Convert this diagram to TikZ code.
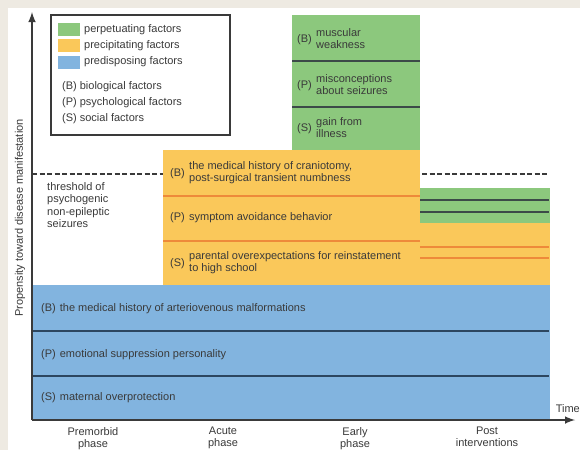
\documentclass[tikz,border=0pt]{standalone}
\usepackage{fontspec}
\setmainfont{Liberation Sans}
\usetikzlibrary{arrows}
\definecolor{bgbeige}{HTML}{EEEAE2}
\definecolor{perpgreen}{HTML}{8CC87D}
\definecolor{precyellow}{HTML}{FAC85A}
\definecolor{predblue}{HTML}{82B4DF}
\definecolor{lineorange}{HTML}{EE8A3A}
\definecolor{linedark}{HTML}{3C4A48}
\definecolor{linenavy}{HTML}{2C4660}
\definecolor{inkgrey}{HTML}{3A3A3A}
\tikzset{l/.style={font=\fontsize{11}{12}\selectfont, text=inkgrey, inner sep=0pt}}
\tikzset{tx/.style={l, align=left, anchor=west}}
\tikzset{ph/.style={l, align=center, anchor=north}}
\tikzset{axis/.style={line width=2.4pt, draw=inkgrey, -latex}}
\tikzset{thr/.style={line width=1.8pt, draw=inkgrey, dash pattern=on 5pt off 2.5pt}}
\tikzset{sep/.style={line width=1.3pt, draw=lineorange}}
\tikzset{dk/.style={line width=1.8pt, draw=linedark}}
\tikzset{nv/.style={line width=1.8pt, draw=linenavy}}

\begin{document}
\begin{tikzpicture}[x=1pt, y=-1pt]
  \useasboundingbox (0,0) rectangle (580,450);
  \fill[bgbeige] (0,0) rectangle (580,450);
  \fill[white] (8,8) rectangle (580,450);

  % threshold, hidden where the boxes lie over it
  \coordinate (thrL) at (32,174);
  \coordinate (thrR) at (548,174);
  \draw[thr] (thrL) -- (thrR);

  % predisposing factors
  \fill[predblue] (32,285) rectangle (550,420);
  \draw[nv] (32,331) -- (549,331);
  \draw[nv] (32,376) -- (549,376);
  \node[tx] (preB) at (41,309) {(B)\hspace{4pt}the medical history of arteriovenous malformations};
  \node[tx] (preP) at (41,355) {(P)\hspace{4pt}emotional suppression personality};
  \node[tx] (preS) at (41,398) {(S)\hspace{4pt}maternal overprotection};

  % precipitating factors
  \fill[precyellow] (163,150) rectangle (420,285);
  \draw[sep] (163,196) -- (420,196);
  \draw[sep] (163,241) -- (420,241);
  \node[tx] (precB) at (170,174) {(B)};
  \node[tx] (precBt) at (189,173) {the medical history of craniotomy,\\post-surgical transient numbness};
  \node[tx] (precP) at (170,218) {(P)};
  \node[tx] (precPt) at (189,218) {symptom avoidance behavior};
  \node[tx] (precS) at (170,264) {(S)};
  \node[tx] (precSt) at (189,263) {parental overexpectations for reinstatement\\to high school};

  % perpetuating factors
  \fill[perpgreen] (292,15) rectangle (420,150);
  \draw[dk] (292,61) -- (420,61);
  \draw[dk] (292,107) -- (420,107);
  \node[tx] (perB) at (297,40) {(B)};
  \node[tx] (perBt) at (316,39) {muscular\\weakness};
  \node[tx] (perP) at (297,86) {(P)};
  \node[tx] (perPt) at (316,85) {misconceptions\\about seizures};
  \node[tx] (perS) at (297,129) {(S)};
  \node[tx] (perSt) at (316,128) {gain from\\illness};

  % after the interventions
  \fill[precyellow] (420,223) rectangle (550,285);
  \draw[sep] (420,247) -- (549,247);
  \draw[sep] (420,258) -- (549,258);
  \fill[perpgreen] (420,188) rectangle (550,223);
  \draw[dk] (420,200) -- (549,200);
  \draw[dk] (420,212) -- (549,212);

  \node[tx, font=\fontsize{11}{12.3}\selectfont] (thrlab) at (47,205) {threshold of\\psychogenic\\non-epileptic\\seizures};

  % legend
  \draw[line width=1.4pt, draw=inkgrey, fill=white] (51,15) rectangle (230,135);
  \fill[perpgreen] (58,23) rectangle (80,36);
  \fill[precyellow] (58,39) rectangle (80,52);
  \fill[predblue] (58,56) rectangle (80,69);
  \node[tx] (legPerp) at (84,30) {perpetuating factors};
  \node[tx] (legPrec) at (84,46) {precipitating factors};
  \node[tx] (legPred) at (84,62) {predisposing factors};
  \node[tx] (legB) at (62,87) {(B)\hspace{3pt}biological factors};
  \node[tx] (legP) at (62,103) {(P)\hspace{3pt}psychological factors};
  \node[tx] (legS) at (62,119) {(S)\hspace{3pt}social factors};

  % axes
  \coordinate (orig) at (32,420);
  \coordinate (ytop) at (32,12);
  \coordinate (xend) at (575,420);
  \draw[axis] (orig) -- (ytop);
  \draw[axis] (orig) -- (xend);
  \node[l, rotate=90] (ylab) at (20,218) {Propensity toward disease manifestation};
  \node[l, anchor=east] (tlab) at (580,409) {Time};

  \node[ph] (phPre) at (93,427) {Premorbid\\phase};
  \node[ph] (phAcu) at (223,427) {Acute\\phase};
  \node[ph] (phEar) at (355,427) {Early\\phase};
  \node[ph] (phPost) at (487,427) {Post\\interventions};
\end{tikzpicture}
\end{document}
